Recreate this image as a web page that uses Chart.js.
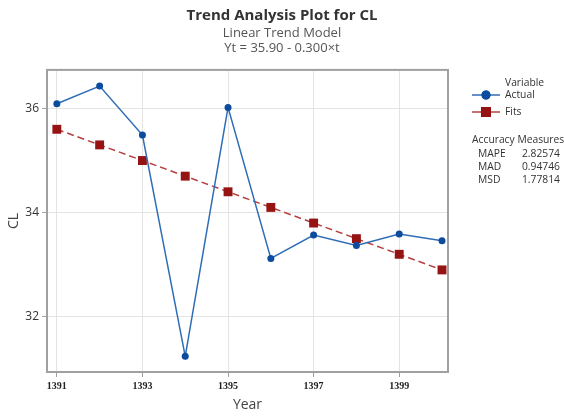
<!DOCTYPE html>
<html>
<head>
<meta charset="utf-8">
<script src="https://cdn.jsdelivr.net/npm/chart.js@4/dist/chart.umd.min.js"></script>
<style>
  html, body { margin: 0; padding: 0; background: #fff; }
  #wrap { width: 564px; height: 417px; }
</style>
</head>
<body>
<div id="wrap"><canvas id="trend_cl"></canvas></div>
<script>
// data
var years = [1391, 1392, 1393, 1394, 1395, 1396, 1397, 1398, 1399, 1400];
var actual = [36.09, 36.43, 35.49, 31.24, 36.02, 33.12, 33.57, 33.37, 33.59, 33.46];
var fits = [35.60, 35.30, 35.00, 34.70, 34.40, 34.10, 33.80, 33.50, 33.20, 32.90];
var xTicks = [1391, 1393, 1395, 1397, 1399];
var yTicks = [32, 34, 36];
var measureNames = ['MAPE', 'MAD', 'MSD'];
var measureValues = ['2.82574', '0.94746', '1.77814'];

var sans = "'Open Sans', 'Noto Sans', sans-serif";

function pts(vals) {
    return years.map(function (y, i) { return { x: y, y: vals[i] }; });
}

// legend + accuracy box on the right side
var sideLegend = {
    id: 'sideLegend',
    afterDraw: function (chart) {
        var c = chart.ctx;
        var x0 = chart.chartArea.right + 24;
        c.save();
        c.font = '10.3px ' + sans;
        c.fillStyle = '#333';
        c.textBaseline = 'middle';
        c.textAlign = 'left';
        c.fillText('Variable', x0 + 33, 83);
        var items = [
            { label: 'Actual', y: 95, line: '#2f6db5', mark: '#0b4c9e', style: 'circle', r: 4.5 },
            { label: 'Fits', y: 112, line: '#b5403f', mark: '#961313', style: 'rect', r: 7 }
        ];
        items.forEach(function (it) {
            c.strokeStyle = it.line;
            c.lineWidth = 1.5;
            c.beginPath();
            c.moveTo(x0, it.y);
            c.lineTo(x0 + 28, it.y);
            c.stroke();
            c.fillStyle = it.mark;
            Chart.helpers.drawPoint(c, { pointStyle: it.style, radius: it.r, borderWidth: 0 }, x0 + 14, it.y);
            c.fill();
            c.fillStyle = '#333';
            c.fillText(it.label, x0 + 33, it.y);
        });
        c.fillText('Accuracy Measures', x0, 140);
        measureNames.forEach(function (n, i) {
            var yy = 154 + i * 13;
            c.textAlign = 'left';
            c.fillText(n, x0 + 6, yy);
            c.textAlign = 'right';
            c.fillText(measureValues[i], x0 + 88, yy);
        });
        c.restore();
    }
};

var ctx = document.getElementById('trend_cl').getContext('2d');
var trendChart = new Chart(ctx, {
    type: 'line',
    data: {
        datasets: [{
            label: 'Actual',
            data: pts(actual),
            borderColor: '#2f6db5',
            backgroundColor: '#0b4c9e',
            pointBackgroundColor: '#0b4c9e',
            pointBorderWidth: 0,
            pointRadius: 3.5,
            borderWidth: 1.5,
            tension: 0
        }, {
            label: 'Fits',
            data: pts(fits),
            borderColor: '#b5403f',
            backgroundColor: '#961313',
            pointBackgroundColor: '#961313',
            pointStyle: 'rect',
            pointBorderWidth: 0,
            pointRadius: 6.3,
            borderWidth: 1.5,
            borderDash: [7, 4],
            tension: 0
        }]
    },
    options: {
        responsive: true,
        maintainAspectRatio: false,
        animation: false,
        layout: { padding: 0 },
        plugins: {
            legend: { display: false },
            tooltip: { enabled: false },
            title: {
                display: true,
                text: 'Trend Analysis Plot for CL',
                color: '#333',
                font: { family: sans, size: 15, weight: 'bold' },
                padding: { top: 7, bottom: 1 }
            },
            subtitle: {
                display: true,
                text: ['Linear Trend Model', 'Yt = 35.90 - 0.300\u00d7t'],
                color: '#555',
                font: { family: sans, size: 13, lineHeight: 1.15 },
                padding: { top: 0, bottom: 14 }
            }
        },
        scales: {
            x: {
                type: 'linear',
                min: 1390.77,
                max: 1400.14,
                afterBuildTicks: function (s) { s.ticks = xTicks.map(function (v) { return { value: v }; }); },
                afterFit: function (s) { s.height = 45; },
                grid: { color: '#e4e4e4', tickColor: '#a0a0a0', tickLength: 5 },
                border: { color: '#a0a0a0', width: 2 },
                ticks: {
                    color: '#222',
                    padding: 3,
                    maxRotation: 0,
                    font: { family: "'Liberation Serif', 'Times New Roman', serif", size: 10, weight: 'bold' },
                    callback: function (v) { return String(v); }
                },
                title: {
                    display: true,
                    text: 'Year',
                    color: '#444',
                    font: { family: sans, size: 14 },
                    padding: { top: 0, bottom: 4 }
                }
            },
            y: {
                min: 30.94,
                max: 36.74,
                afterBuildTicks: function (s) { s.ticks = yTicks.map(function (v) { return { value: v }; }); },
                afterFit: function (s) { s.width = 47; },
                grid: { color: '#e4e4e4', tickColor: '#a0a0a0', tickLength: 5 },
                border: { color: '#a0a0a0', width: 2 },
                ticks: {
                    color: '#333',
                    padding: 3,
                    font: { family: sans, size: 12 }
                },
                title: {
                    display: true,
                    text: 'CL',
                    color: '#444',
                    font: { family: sans, size: 14 },
                    padding: { top: 6, bottom: 0 }
                }
            },
            // empty right-hand scale only reserves room for the legend
            side: {
                position: 'right',
                min: 30.94,
                max: 36.74,
                afterFit: function (s) { s.width = 116; },
                grid: { display: false, drawTicks: false },
                border: { display: false },
                ticks: { display: false }
            }
        }
    },
    plugins: [sideLegend, {
        id: 'frame',
        afterDraw: function (chart) {
            var a = chart.chartArea, c = chart.ctx;
            c.save();
            c.strokeStyle = '#a0a0a0';
            c.lineWidth = 2;
            c.strokeRect(a.left, a.top, a.right - a.left, a.bottom - a.top);
            c.restore();
        }
    }]
});
</script>
</body>
</html>
